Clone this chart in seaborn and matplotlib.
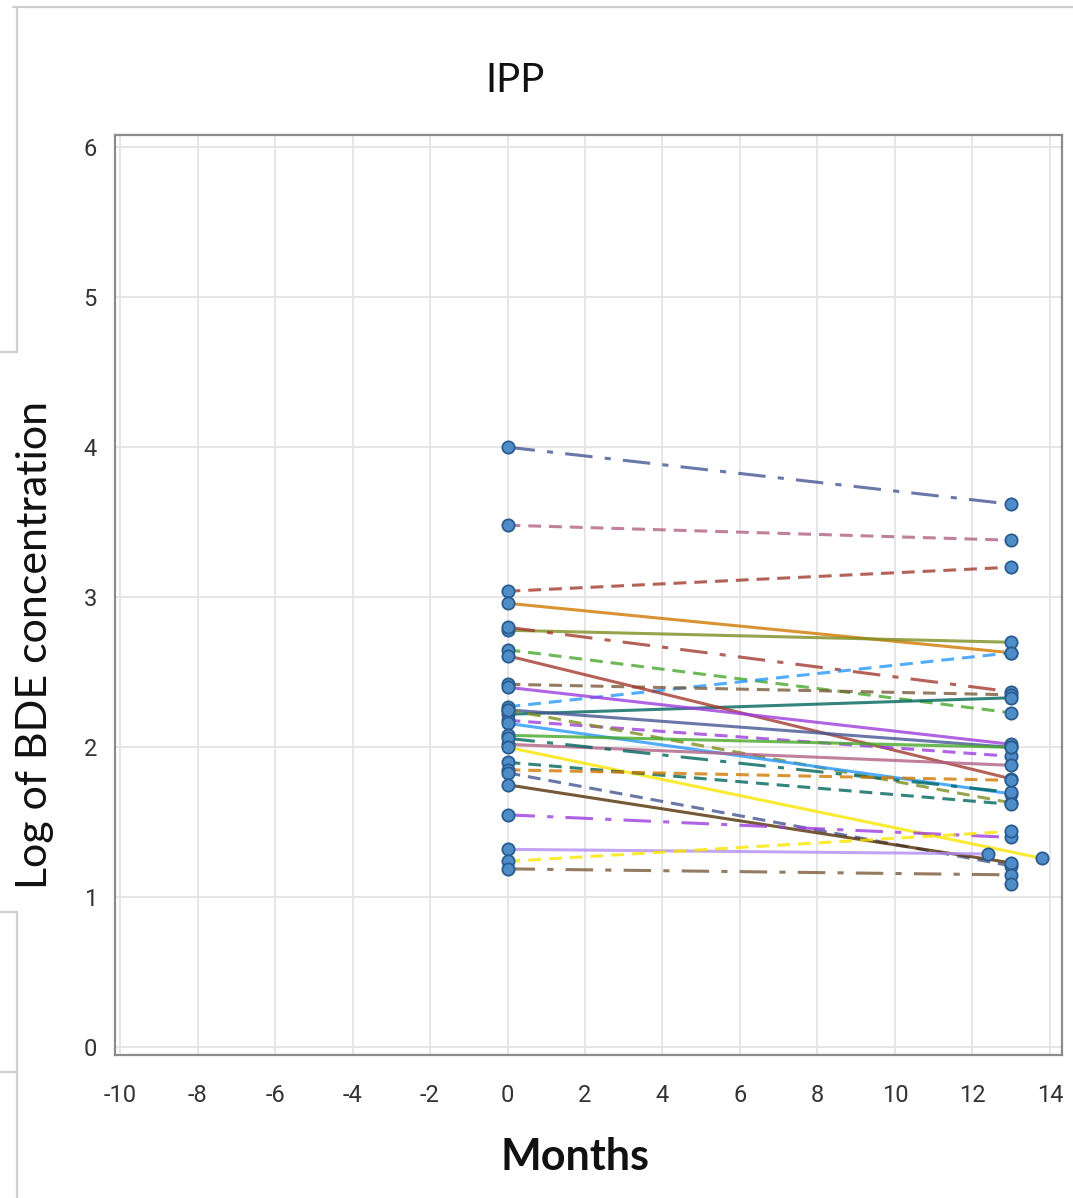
import matplotlib
matplotlib.use("Agg")
import matplotlib.pyplot as plt
from matplotlib.lines import Line2D
import numpy as np
import pandas as pd
import seaborn as sns

# Log BDE concentration per participant at baseline and at follow-up
subjects = [f"S{i:02d}" for i in range(1, 29)]
baseline = [4.00, 3.48, 3.04, 2.96, 2.78, 2.80, 2.65, 2.27, 2.42, 2.22,
            2.61, 2.40, 2.18, 2.25, 2.25, 2.16, 2.08, 2.02, 2.06, 2.00,
            1.90, 1.85, 1.83, 1.75, 1.55, 1.32, 1.24, 1.19]
followup = [3.62, 3.38, 3.20, 2.63, 2.70, 2.37, 2.23, 2.63, 2.35, 2.33,
            1.79, 2.02, 1.94, 2.00, 1.63, 1.69, 2.00, 1.88, 1.70, 1.26,
            1.62, 1.78, 1.21, 1.23, 1.40, 1.29, 1.44, 1.15]
followup_month = [13, 13, 13, 13, 13, 13, 13, 13, 13, 13,
                  13, 13, 13, 13, 13, 13, 13, 13, 13, 13.8,
                  13, 13, 13, 13, 13, 12.4, 13, 13]
# participant with a follow-up sample only
single_month = [13]
single_value = [1.09]

line_colors = ["#445694", "#B26084", "#A23A2E", "#D17800", "#7F8E1F", "#A23A2E",
               "#47A82A", "#2597FA", "#7A5A3A", "#01665E", "#A23A2E", "#9D3CDB",
               "#9D3CDB", "#445694", "#7F8E1F", "#2597FA", "#47A82A", "#B26084",
               "#01665E", "#F9E500", "#01665E", "#D17800", "#445694", "#543005",
               "#9D3CDB", "#B38EF3", "#F9E500", "#7A5A3A"]
line_styles = ["dashdot", "dash", "dash", "solid", "solid", "dashdot",
               "dash", "dash", "dash", "solid", "solid", "solid",
               "dash", "solid", "dash", "solid", "solid", "solid",
               "dashdot", "solid", "dash", "dash", "dash", "solid",
               "dashdot", "solid", "dash", "dashdot"]

dash_spec = {"solid": "", "dash": (4.2, 2.6), "dashdot": (9, 4, 2, 4)}

rows = []
for s, b, f, m in zip(subjects, baseline, followup, followup_month):
    rows.append({"subject": s, "month": 0.0, "value": b})
    rows.append({"subject": s, "month": m, "value": f})
df = pd.DataFrame(rows)
pts = pd.concat([df, pd.DataFrame({"subject": ["S29"], "month": single_month,
                                   "value": single_value})], ignore_index=True)

sns.set_theme(style="white")
plt.rcParams["axes.unicode_minus"] = False

fig = plt.figure(figsize=(10.73, 11.98), dpi=100)
ax = fig.add_axes([0.1072, 0.1194, 0.8825, 0.7679])

palette = dict(zip(subjects, line_colors))
dashes = {s: dash_spec[st] for s, st in zip(subjects, line_styles)}

sns.lineplot(data=df, x="month", y="value", hue="subject", style="subject",
             palette=palette, dashes=dashes, estimator=None, units="subject",
             linewidth=2.2, alpha=0.8, legend=False, ax=ax, zorder=2)
sns.scatterplot(data=pts, x="month", y="value", color="#4F8DC9",
                edgecolor="#2B5C8F", linewidth=1.3, s=78, legend=False,
                ax=ax, zorder=3)

ax.set_xlim(-10.13, 14.31)
ax.set_ylim(-0.05, 6.08)
ax.set_xticks(np.arange(-10, 15, 2))
ax.set_yticks(np.arange(0, 7, 1))
ax.set_xticklabels([str(v) for v in range(-10, 15, 2)])
ax.set_yticklabels([str(v) for v in range(0, 7)])
ax.grid(True, color="#e6e6e6", linewidth=1.4)
ax.set_axisbelow(True)
for sp in ax.spines.values():
    sp.set_color("#8c8c8c")
    sp.set_linewidth(1.6)
tick_font = ["Liberation Sans Narrow", "Roboto", "DejaVu Sans"]
ax.tick_params(axis="both", direction="out", length=7, width=1.2,
               color="#9a9a9a", labelsize=17, labelcolor="#333333", pad=6)
for lab in ax.get_xticklabels() + ax.get_yticklabels():
    lab.set_family(tick_font)
ax.tick_params(axis="x", pad=14)
ax.set_xlabel("")
ax.set_ylabel("")

fig.text(515 / 1073, 1 - 80 / 1198, "IPP", ha="center", va="center",
         fontsize=29, family=["Lato", "DejaVu Sans"], color="#111111")
fig.text(575 / 1073, 1 - 1157 / 1198, "Months", ha="center", va="center",
         fontsize=31, fontweight="bold", family=["Lato", "DejaVu Sans"],
         color="#111111")
fig.text(35 / 1073, 1 - 645 / 1198, "Log of BDE concentration", ha="center",
         va="center", rotation=90, fontsize=31, family=["Lato", "DejaVu Sans"],
         color="#111111")

# surrounding panel frame fragments
def fline(x0, y0, x1, y1):
    fig.add_artist(Line2D([x0 / 1073, x1 / 1073], [1 - y0 / 1198, 1 - y1 / 1198],
                          color="#cfcfcf", linewidth=1.6))

fline(13, 7, 1073, 7)
fline(17, 7, 17, 352)
fline(0, 352, 17, 352)
fline(0, 912, 17, 912)
fline(17, 912, 17, 1198)
fline(0, 1072, 17, 1072)

fig.savefig("out.png", dpi=100, facecolor="white")
